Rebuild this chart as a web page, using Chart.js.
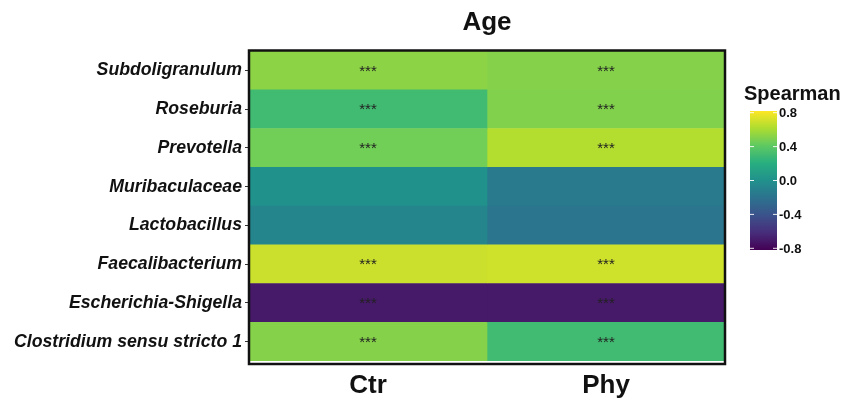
<!DOCTYPE html>
<html>
<head>
<meta charset="utf-8">
<script src="https://cdn.jsdelivr.net/npm/chart.js@4"></script>
<style>
  html, body { margin: 0; padding: 0; background: #fff; }
  #wrap { width: 857px; height: 398px; }
</style>
</head>
<body>
<div id="wrap"><canvas id="heat"></canvas></div>
<script>
// rows top -> bottom
const taxa = ["Subdoligranulum", "Roseburia", "Prevotella", "Muribaculaceae",
    "Lactobacillus", "Faecalibacterium", "Escherichia-Shigella", "Clostridium sensu stricto 1"];
const groups = ["Ctr", "Phy"];

// spearman r
const ctrValues = [0.53, 0.30, 0.46, 0.00, -0.08, 0.69, -0.71, 0.51];
const phyValues = [0.51, 0.50, 0.63, -0.15, -0.18, 0.70, -0.71, 0.30];
const ctrStars = ["***", "***", "***", "", "", "***", "***", "***"];
const phyStars = ["***", "***", "***", "", "", "***", "***", "***"];

const colorbarTicks = [0.8, 0.4, 0.0, -0.4, -0.8];
const scaleMin = -0.82, scaleMax = 0.82;

// viridis stops
const viridis = ["#440154", "#472d7b", "#3b528b", "#2c728e", "#21918c",
    "#28ae80", "#5ec962", "#addc30", "#fde725"];

function hexToRgb(h) {
    return [parseInt(h.slice(1, 3), 16), parseInt(h.slice(3, 5), 16), parseInt(h.slice(5, 7), 16)];
}

function viridisColor(v) {
    let t = (v - scaleMin) / (scaleMax - scaleMin);
    t = Math.max(0, Math.min(1, t));
    const pos = t * (viridis.length - 1);
    const i = Math.min(Math.floor(pos), viridis.length - 2);
    const f = pos - i;
    const a = hexToRgb(viridis[i]), b = hexToRgb(viridis[i + 1]);
    const c = a.map((x, k) => Math.round(x + (b[k] - x) * f));
    return `rgb(${c[0]},${c[1]},${c[2]})`;
}

const FONT = "'Liberation Sans', Arial, sans-serif";

// title, panel border, stars and colour bar
const extras = {
    id: "extras",
    afterDatasetsDraw(chart) {
        const ctx = chart.ctx;
        const area = chart.chartArea;
        ctx.save();

        // stars
        ctx.fillStyle = "#222";
        ctx.font = "15px " + FONT;
        ctx.textAlign = "center";
        ctx.textBaseline = "middle";
        chart.data.datasets.forEach((ds, di) => {
            chart.getDatasetMeta(di).data.forEach((bar, i) => {
                if (ds.stars[i]) ctx.fillText(ds.stars[i], bar.getCenterPoint().x, bar.y + 1);
            });
        });

        // panel border
        ctx.strokeStyle = "#111";
        ctx.lineWidth = 2.5;
        ctx.strokeRect(area.left, area.top - 0.5, area.right - area.left, area.bottom - area.top + 3.5);

        // title
        ctx.fillStyle = "#111";
        ctx.font = "bold 26px " + FONT;
        ctx.textBaseline = "middle";
        ctx.fillText("Age", (area.left + area.right) / 2, 23);

        // colour bar
        const bx = 750, bw = 27, top = 111, bot = 250;
        const grad = ctx.createLinearGradient(0, bot, 0, top);
        viridis.forEach((c, i) => grad.addColorStop(i / (viridis.length - 1), c));
        ctx.fillStyle = grad;
        ctx.fillRect(bx, top, bw, bot - top);

        ctx.fillStyle = "#111";
        ctx.font = "bold 20px " + FONT;
        ctx.textAlign = "left";
        ctx.fillText("Spearman", 744, 94);

        ctx.font = "bold 13px " + FONT;
        colorbarTicks.forEach(v => {
            const y = bot - (v - scaleMin) / (scaleMax - scaleMin) * (bot - top);
            ctx.strokeStyle = "rgba(255,255,255,0.9)";
            ctx.lineWidth = 1;
            ctx.beginPath();
            ctx.moveTo(bx, y); ctx.lineTo(bx + 4, y);
            ctx.moveTo(bx + bw - 4, y); ctx.lineTo(bx + bw, y);
            ctx.stroke();
            ctx.fillStyle = "#111";
            ctx.fillText(v.toFixed(1), bx + bw + 2, y + 1);
        });
        ctx.restore();
    }
};

new Chart(document.getElementById("heat"), {
    type: "bar",
    data: {
        labels: taxa,
        datasets: [
            {
                label: groups[0],
                data: ctrValues.map(() => [0, 1]),
                backgroundColor: ctrValues.map(viridisColor),
                stars: ctrStars
            },
            {
                label: groups[1],
                data: phyValues.map(() => [1, 2]),
                backgroundColor: phyValues.map(viridisColor),
                stars: phyStars
            }
        ]
    },
    options: {
        indexAxis: "y",
        responsive: true,
        maintainAspectRatio: false,
        animation: false,
        layout: { padding: { top: 51, right: 132, left: 0, bottom: 0 } },
        datasets: {
            bar: { grouped: false, barPercentage: 1, categoryPercentage: 1, borderWidth: 0 }
        },
        plugins: { legend: { display: false }, tooltip: { enabled: false } },
        scales: {
            x: {
                type: "linear",
                min: 0,
                max: 2,
                grid: { display: false },
                border: { display: false },
                afterFit: (s) => { s.height = 37; },
                afterBuildTicks: (s) => { s.ticks = [{ value: 0.5 }, { value: 1.5 }]; },
                ticks: {
                    autoSkip: false,
                    maxRotation: 0,
                    padding: 1,
                    color: "#111",
                    font: { family: FONT, size: 26, weight: "bold" },
                    callback: (v) => groups[Math.round(v - 0.5)]
                }
            },
            y: {
                grid: { display: true, drawOnChartArea: false, offset: false, tickLength: 4, color: "#333", lineWidth: 1 },
                border: { display: false },
                afterFit: (s) => { s.width = 249; },
                ticks: {
                    padding: 3,
                    color: "#111",
                    font: { family: FONT, size: 17.7, weight: "bold", style: "italic" }
                }
            }
        }
    },
    plugins: [extras]
});
</script>
</body>
</html>
